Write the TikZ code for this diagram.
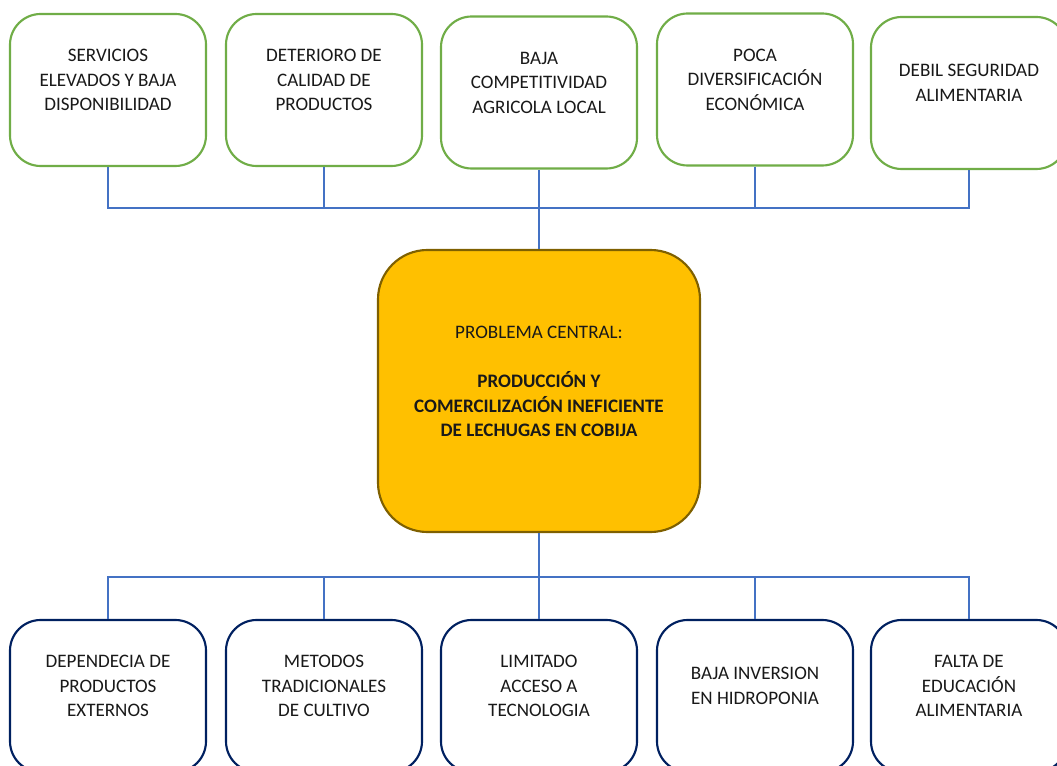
\documentclass[tikz,border=0pt]{standalone}
\usepackage{fontspec}
\setmainfont{Carlito}
\definecolor{efgreen}{HTML}{70AD47}
\definecolor{causenavy}{HTML}{002060}
\definecolor{coreorange}{HTML}{FFC000}
\definecolor{coreedge}{HTML}{7F6000}
\definecolor{linkblue}{HTML}{4472C4}

\begin{document}
\begin{tikzpicture}[x = 0.75pt, y = -0.75pt,
  box/.style = {shape = rectangle, rounded corners = 23pt, line width = 1.6pt, minimum width = 147pt, minimum height = 114pt},
  efecto/.style = {box, draw = efgreen, fill = white},
  causa/.style = {box, draw = causenavy, fill = white},
  central/.style = {shape = rectangle, rounded corners = 37pt, draw = coreedge, fill = coreorange, line width = 1.6pt, minimum width = 241.5pt, minimum height = 211.5pt},
  txt/.style = {align = center, text = black!90, font = \fontsize{14.3}{18.4}\selectfont},
  link/.style = {draw = linkblue, line width = 2.2pt}]
\useasboundingbox (0,0) rectangle (1057,766);

% efectos
\node[efecto] (e1) at (108,90) {};
\node[efecto] (e2) at (324,90) {};
\node[efecto] (e3) at (539,92.5) {};
\node[efecto] (e4) at (755,89.5) {};
\node[efecto] (e5) at (969,93) {};
\node[txt] (te1) at ([yshift=7.5pt]e1.center) {SERVICIOS\\ELEVADOS Y BAJA\\DISPONIBILIDAD};
\node[txt] (te2) at ([yshift=7.5pt]e2.center) {DETERIORO DE\\CALIDAD DE\\PRODUCTOS};
\node[txt] (te3) at ([yshift=7.5pt]e3.center) {BAJA\\COMPETITIVIDAD\\AGRICOLA LOCAL};
\node[txt] (te4) at ([yshift=7.5pt]e4.center) {POCA\\DIVERSIFICACIÓN\\ECONÓMICA};
\node[txt] (te5) at ([yshift=7.5pt]e5.center) {DEBIL SEGURIDAD\\ALIMENTARIA};

% problema central
\node[central] (pc) at (539,391) {};
\node[txt] (tpc) at ([yshift=7pt]pc.center) {PROBLEMA CENTRAL:\\[18.4pt]\textbf{PRODUCCIÓN Y}\\\textbf{COMERCILIZACIÓN INEFICIENTE}\\\textbf{DE LECHUGAS EN COBIJA}};

% causas
\node[causa] (c1) at (108,696) {};
\node[causa] (c2) at (324,696) {};
\node[causa] (c3) at (539,696) {};
\node[causa] (c4) at (755,696) {};
\node[causa] (c5) at (969,696) {};
\node[txt] (tc1) at ([yshift=7.5pt]c1.center) {DEPENDECIA DE\\PRODUCTOS\\EXTERNOS};
\node[txt] (tc2) at ([yshift=7.5pt]c2.center) {METODOS\\TRADICIONALES\\DE CULTIVO};
\node[txt] (tc3) at ([yshift=7.5pt]c3.center) {LIMITADO\\ACCESO A\\TECNOLOGIA};
\node[txt] (tc4) at ([yshift=7.5pt]c4.center) {BAJA INVERSION\\EN HIDROPONIA};
\node[txt] (tc5) at ([yshift=7.5pt]c5.center) {FALTA DE\\EDUCACIÓN\\ALIMENTARIA};

% conectores
\coordinate (jt) at (539,208);
\coordinate (jb) at (539,577);
\foreach \n in {e1,e2,e3,e4,e5}
  \draw[link] (\n.south) |- (jt);
\draw[link] (jt) -- (pc.north);
\draw[link] (pc.south) -- (jb);
\foreach \n in {c1,c2,c3,c4,c5}
  \draw[link] (jb) -| (\n.north);
\end{tikzpicture}
\end{document}
